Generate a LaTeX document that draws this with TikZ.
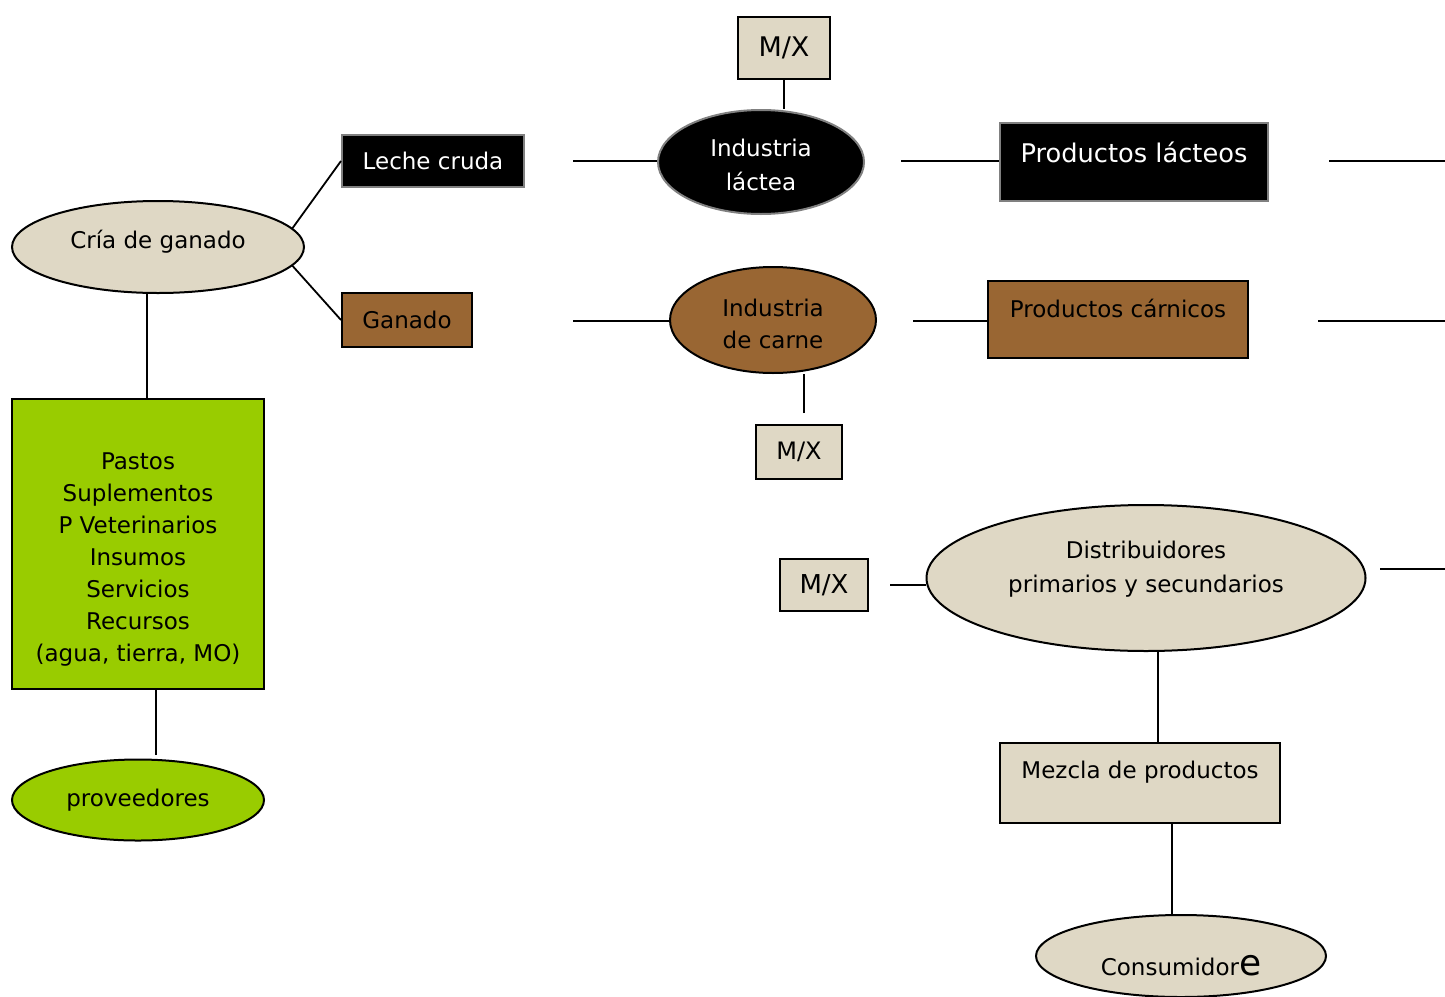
\documentclass[tikz,border=0pt]{standalone}
\usepackage{fontspec}
\setmainfont{DejaVu Sans}
\usetikzlibrary{shapes.geometric}
\definecolor{beige}{HTML}{DFD8C5}
\definecolor{cafe}{HTML}{996633}
\definecolor{verde}{HTML}{99CC00}
\definecolor{borde}{HTML}{808080}
\tikzset{
  caja/.style={draw,line width=2pt,inner sep=0pt,align=center,font=\fontsize{23}{32}\selectfont},
  elipse/.style={caja,ellipse},
  negro/.style={fill=black,draw=borde,text=white},
  linea/.style={line width=1.8pt}
}
\begin{document}
\begin{tikzpicture}[x=1pt,y=-1pt]
  \useasboundingbox (0,0) rectangle (1445,996);
  % produccion primaria
  \node[elipse,fill=beige,minimum width=292pt,minimum height=92pt,text height=17pt,text depth=15pt] (cria) at (158,247) {Cría de ganado};
  \node[caja,negro,minimum width=182pt,minimum height=52pt] (leche) at (433,161) {Leche cruda};
  \node[caja,fill=cafe,minimum width=130pt,minimum height=54pt] (ganado) at (407,320) {Ganado};
  \node[caja,fill=verde,minimum width=252pt,minimum height=290pt] (insumos) at (138,544) {\rule{0pt}{47pt}Pastos\\Suplementos\\P Veterinarios\\Insumos\\Servicios\\Recursos\\(agua, tierra, MO)};
  \node[elipse,fill=verde,minimum width=252pt,minimum height=81pt] (prov) at (138,800) {proveedores};
  % industria
  \node[elipse,negro,minimum width=206pt,minimum height=104pt,font=\fontsize{23}{34}\selectfont] (lactea) at (761,162) {\rule{0pt}{24pt}Industria\\láctea};
  \node[caja,fill=beige,minimum width=92pt,minimum height=62pt,font=\fontsize{27}{32}\selectfont] (mxa) at (784,48) {M/X};
  \node[caja,negro,minimum width=268pt,minimum height=78pt,font=\fontsize{25.7}{32}\selectfont,text height=19pt,text depth=19pt] (lacteos) at (1134,162) {Productos lácteos};
  \node[elipse,fill=cafe,minimum width=206pt,minimum height=106pt] (carne) at (773,320) {\rule{0pt}{25pt}Industria\\de carne};
  \node[caja,fill=cafe,minimum width=260pt,minimum height=77pt,text height=18pt,text depth=23pt] (carnicos) at (1118,319.5) {Productos cárnicos};
  \node[caja,fill=beige,minimum width=86pt,minimum height=54pt,font=\fontsize{24}{32}\selectfont] (mxb) at (799,452) {M/X};
  % distribucion
  \node[caja,fill=beige,minimum width=88pt,minimum height=52pt,font=\fontsize{26}{32}\selectfont] (mxc) at (824,585) {M/X};
  \node[elipse,fill=beige,minimum width=439pt,minimum height=146pt,font=\fontsize{23}{34}\selectfont] (dist) at (1146,578) {Distribuidores\\primarios y secundarios\rule[-22pt]{0pt}{0pt}};
  \node[caja,fill=beige,minimum width=280pt,minimum height=80pt,text height=18pt,text depth=28pt] (mezcla) at (1140,783) {Mezcla de productos};
  \node[elipse,fill=beige,minimum width=290pt,minimum height=82pt,text height=40pt,text depth=2pt] (consum) at (1181,956) {Consumidor{\fontsize{36}{36}\selectfont e}};
  % extremos sueltos
  \coordinate (lc) at (573,161);
  \coordinate (la) at (901,161);
  \coordinate (lb1) at (1329,161);
  \coordinate (lb2) at (1445,161);
  \coordinate (ga) at (573,321);
  \coordinate (ca) at (913,321);
  \coordinate (cb1) at (1318,321);
  \coordinate (cb2) at (1445,321);
  \coordinate (cm) at (804,413);
  \coordinate (md) at (890,585);
  \coordinate (db1) at (1380,569);
  \coordinate (db2) at (1445,569);
  \coordinate (pv) at (156,755);
  % conexiones
  \draw[linea] (cria.8) -- (leche.west);
  \draw[linea] (cria.-8) -- (ganado.west);
  \draw[linea] ([xshift=-11pt]cria.south) -- ([xshift=9pt]insumos.north);
  \draw[linea] (pv) -- (pv |- insumos.south);
  \draw[linea] (lc) -- (lc -| lactea.west);
  \draw[linea] (mxa.south) -- (mxa.south |- lactea.north);
  \draw[linea] (la) -- (la -| lacteos.west);
  \draw[linea] (lb1) -- (lb2);
  \draw[linea] (ga) -- (ga -| carne.west);
  \draw[linea] (ca) -- (ca -| carnicos.west);
  \draw[linea] (cb1) -- (cb2);
  \draw[linea] (cm) -- (cm |- carne.south);
  \draw[linea] (md) -- (md -| dist.west);
  \draw[linea] (db1) -- (db2);
  \draw[linea] ([xshift=12pt]dist.south) -- ([xshift=18pt]mezcla.north);
  \draw[linea] ([xshift=32pt]mezcla.south) -- ([xshift=-9pt]consum.north);
\end{tikzpicture}
\end{document}
